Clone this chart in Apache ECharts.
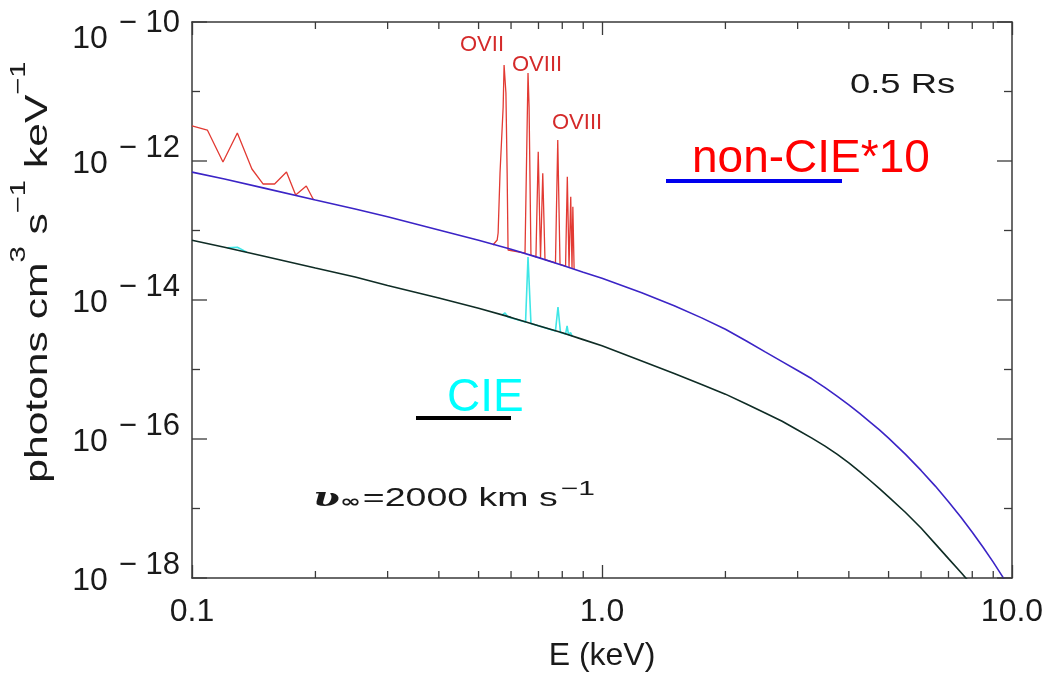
<!DOCTYPE html>
<html>
<head>
<meta charset="utf-8">
<script src="https://cdn.jsdelivr.net/npm/echarts@6/dist/echarts.min.js"></script>
<style>
  html, body { margin: 0; padding: 0; background: #fff; }
  #chart { width: 1053px; height: 675px; }
</style>
</head>
<body>
<div id="chart"></div>
<script>
// Photon energies (keV) sampled along the two continua
const energyKeV = [0.1, 0.12, 0.15, 0.2, 0.25, 0.3, 0.4, 0.5, 0.6, 0.7, 0.8, 0.9, 1.0,
  1.25, 1.5, 1.75, 2.0, 2.25, 2.5, 2.75, 3.0, 3.25, 3.5, 3.75, 4.0, 4.25, 4.5, 4.75, 5.0,
  5.5, 6.0, 6.5, 7.0, 7.5, 8.0, 8.5, 9.0, 9.5, 10.0];

// non-CIE continuum, scaled by 10 (photons cm^3 s^-1 keV^-1)
const nonCieContinuum = [6.92e-13, 5.50e-13, 4.07e-13, 2.75e-13, 2.04e-13, 1.58e-13, 1.02e-13, 7.24e-14,
  5.37e-14, 4.07e-14, 3.16e-14, 2.51e-14, 2.05e-14,
  1.27e-14, 8.26e-15, 5.53e-15, 3.79e-15, 2.57e-15, 1.79e-15, 1.30e-15, 9.68e-16, 7.35e-16, 5.47e-16,
  4.10e-16, 3.10e-16, 2.34e-16, 1.77e-16, 1.35e-16, 1.03e-16,
  6.00e-17, 3.53e-17, 2.10e-17, 1.25e-17, 7.52e-18, 4.56e-18, 2.77e-18, 1.69e-18, 1.03e-18, 6.37e-19];

// CIE continuum
const cieContinuum = [7.24e-14, 5.75e-14, 4.27e-14, 2.88e-14, 2.14e-14, 1.62e-14, 1.07e-14, 7.59e-15,
  5.62e-15, 4.27e-15, 3.39e-15, 2.69e-15, 2.19e-15,
  1.33e-15, 8.75e-16, 6.10e-16, 4.42e-16, 3.19e-16, 2.37e-16, 1.80e-16, 1.35e-16, 1.03e-16, 7.91e-17,
  6.00e-17, 4.52e-17, 3.39e-17, 2.55e-17, 1.93e-17, 1.47e-17,
  8.75e-18, 5.24e-18, 3.10e-18, 1.90e-18, 1.21e-18, 7.83e-19, 5.08e-19, 3.33e-19, 2.20e-19, 1.46e-19];

// non-CIE emission below 0.2 keV
const nonCieSoftE = [0.100, 0.109, 0.119, 0.129, 0.140, 0.149, 0.159, 0.170, 0.179, 0.190, 0.198];
const nonCieSoftF = [3.19e-12, 2.79e-12, 9.68e-13, 2.53e-12, 7.67e-13, 4.67e-13, 4.67e-13, 6.95e-13,
  3.24e-13, 4.37e-13, 2.75e-13];

// non-CIE oxygen / iron line complex
const nonCieLineE = [0.542, 0.555, 0.558, 0.564, 0.574, 0.577, 0.583, 0.587, 0.590,
  0.649, 0.660, 0.664, 0.671, 0.690, 0.699, 0.708, 0.717, 0.726,
  0.770, 0.780, 0.790, 0.815, 0.823, 0.831, 0.839, 0.845, 0.849, 0.855];
const nonCieLineF = [6.18e-14, 7.29e-14, 9.2e-14, 6.71e-13, 5.98e-12, 2.40e-11, 9.51e-12, 6.71e-13, 5.24e-14,
  4.74e-14, 1.85e-11, 5.98e-12, 4.44e-14, 4.16e-14, 1.36e-12, 3.98e-14, 6.65e-13, 3.80e-14,
  3.41e-14, 2.00e-12, 3.25e-14, 3.06e-14, 5.94e-13, 2.96e-14, 3.06e-13, 2.86e-14, 2.19e-13, 2.80e-14];

// CIE lines (null = gap)
const cieLineE = [0.122, 0.129, 0.136, 0.30, 0.570, 0.580, 0.590, 0.651, 0.660, 0.671,
  0.770, 0.781, 0.792, 0.815, 0.822, 0.829, 0.838, 0.846];
const cieLineF = [5.62e-14, 5.75e-14, 4.88e-14, null, 6.03e-15, 6.50e-15, 5.71e-15, 4.83e-15, 4.16e-14, 4.59e-15,
  3.57e-15, 7.92e-15, 3.40e-15, 3.24e-15, 4.23e-15, 3.13e-15, 3.40e-15, 3.00e-15];

// Axis ticks and labels
const xTickLabels = ['0.1', '1.0', '10.0'];
const xMinorTicks = [0.2, 0.3, 0.4, 0.5, 0.6, 0.7, 0.8, 0.9, 2, 3, 4, 5, 6, 7, 8, 9];
const yMajorTicks = [1e-18, 1e-16, 1e-14, 1e-12, 1e-10];
const yMinorTicks = [1e-17, 1e-15, 1e-13, 1e-11];
const yTickExponents = [18, 16, 14, 12, 10];

const SANS = 'Liberation Sans';
const INK = '#1a1a1a';
const FRAME = '#3a3a3a';

function pairs(xs, ys) {
  return xs.map((x, i) => [x, ys[i] == null ? '-' : ys[i]]);
}

function lineSeries(name, data, color, width) {
  return {
    type: 'line', name, data, symbol: 'none', showSymbol: false,
    lineStyle: { color, width }, connectNulls: false, animation: false, silent: true
  };
}

// Tick marks on both sides of the frame, placed through the axes' own scales
function tickSeries(values, dir, len) {
  return {
    type: 'custom', silent: true, animation: false, z: 6,
    data: values.map(v => dir === 'x' ? [v, 1e-14] : [1, v]),
    renderItem(params, api) {
      const cs = params.coordSys;
      const p = api.coord([api.value(0), api.value(1)]);
      const st = { stroke: FRAME, lineWidth: 1.3 };
      if (dir === 'x') {
        const yb = cs.y + cs.height, yt = cs.y;
        return { type: 'group', children: [
          { type: 'line', shape: { x1: p[0], y1: yb, x2: p[0], y2: yb - len }, style: st },
          { type: 'line', shape: { x1: p[0], y1: yt, x2: p[0], y2: yt + len }, style: st }
        ] };
      }
      const xl = cs.x, xr = cs.x + cs.width;
      return { type: 'group', children: [
        { type: 'line', shape: { x1: xl, y1: p[1], x2: xl + len, y2: p[1] }, style: st },
        { type: 'line', shape: { x1: xr, y1: p[1], x2: xr - len, y2: p[1] }, style: st }
      ] };
    }
  };
}

const frameLine = { show: true, lineStyle: { color: FRAME, width: 1.5 } };

const chart = echarts.init(document.getElementById('chart'), null, { renderer: 'canvas' });

chart.setOption({
  backgroundColor: '#fff',
  animation: false,
  grid: { left: 192, right: 41, top: 22, bottom: 97, containLabel: false, outerBoundsMode: 'none' },
  xAxis: [
    {
      type: 'log', logBase: 10, min: 0.1, max: 10, position: 'bottom',
      axisLine: frameLine,
      axisTick: { show: true, inside: true, length: 13, lineStyle: { color: FRAME, width: 1.3 } },
      splitLine: { show: false }, minorTick: { show: false },
      axisLabel: {
        margin: 18, fontSize: 32, fontFamily: SANS, color: INK,
        formatter: v => xTickLabels[Math.round(Math.log10(v)) + 1]
      },
      name: 'E (keV)', nameLocation: 'middle', nameGap: 62,
      nameTextStyle: { fontSize: 32, fontFamily: SANS, color: INK }
    },
    {
      type: 'log', logBase: 10, min: 0.1, max: 10, position: 'top',
      axisLine: frameLine,
      axisTick: { show: true, inside: true, length: 13, lineStyle: { color: FRAME, width: 1.3 } },
      axisLabel: { show: false }, splitLine: { show: false }
    }
  ],
  yAxis: [
    {
      type: 'log', logBase: 10, min: 1e-18, max: 1e-10, position: 'left',
      axisLine: frameLine, axisTick: { show: false }, splitLine: { show: false },
      axisLabel: {
        margin: 12,
        padding: [0, 0, 9, 0],
        formatter: v => {
          const i = yMajorTicks.findIndex(t => Math.abs(Math.log10(t) - Math.log10(v)) < 0.01);
          if (i < 0) return '';
          // the topmost label sits a little lower so it stays inside the page
          return i === yMajorTicks.length - 1
            ? '{bt|10}{et|− ' + yTickExponents[i] + '}'
            : '{b|10}{e|− ' + yTickExponents[i] + '}';
        },
        rich: {
          b: { fontSize: 32, fontFamily: SANS, color: INK, verticalAlign: 'bottom' },
          e: { fontSize: 31, fontFamily: SANS, color: INK, verticalAlign: 'top', lineHeight: 48, padding: [0, 0, 0, 11] },
          bt: { fontSize: 32, fontFamily: SANS, color: INK, verticalAlign: 'top', lineHeight: 48, padding: [30, 0, 0, 0] },
          et: { fontSize: 31, fontFamily: SANS, color: INK, verticalAlign: 'top', lineHeight: 48, padding: [14, 0, 0, 11] }
        }
      }
    },
    {
      type: 'log', logBase: 10, min: 1e-18, max: 1e-10, position: 'right',
      axisLine: frameLine, axisTick: { show: false }, splitLine: { show: false },
      axisLabel: { show: false }
    }
  ],
  series: [
    lineSeries('non-CIE soft', pairs(nonCieSoftE, nonCieSoftF), '#e23a33', 1.3),
    lineSeries('non-CIE lines', pairs(nonCieLineE, nonCieLineF), '#e23a33', 1.3),
    lineSeries('CIE lines', pairs(cieLineE, cieLineF), '#3fe6e6', 1.6),
    lineSeries('non-CIE*10', pairs(energyKeV, nonCieContinuum), '#3b24c6', 1.6),
    lineSeries('CIE', pairs(energyKeV, cieContinuum), '#0f2c25', 1.6),
    tickSeries(xMinorTicks, 'x', 7),
    tickSeries(yMajorTicks, 'y', 15),
    tickSeries(yMinorTicks, 'y', 8)
  ],
  graphic: [
    {
      type: 'text', x: 31, y: 272, rotation: Math.PI / 2, scaleX: 1.33,
      style: {
        text: '{m|photons cm}{s|3}{m| s}{s|−1}{m| keV}{s|−1}',
        align: 'center', verticalAlign: 'middle',
        rich: {
          m: { fontSize: 32, fontFamily: SANS, fill: INK, color: INK, verticalAlign: 'bottom', lineHeight: 46 },
          s: { fontSize: 22, fontFamily: SANS, fill: INK, color: INK, verticalAlign: 'top', lineHeight: 46 }
        }
      }
    },
    {
      type: 'text', x: 850, y: 85, scaleX: 1.3,
      style: { text: '0.5 Rs', fontSize: 28, fontFamily: SANS, fill: INK, align: 'left', verticalAlign: 'middle' }
    },
    {
      type: 'text', x: 692, y: 159,
      style: { text: 'non-CIE*10', fontSize: 46, fontFamily: SANS, fill: '#ff0000', align: 'left', verticalAlign: 'middle' }
    },
    { type: 'line', shape: { x1: 666, y1: 181, x2: 842, y2: 181 }, style: { stroke: '#0000ee', lineWidth: 4 } },
    {
      type: 'text', x: 447, y: 398,
      style: { text: 'CIE', fontSize: 46, fontFamily: SANS, fill: '#00ffff', align: 'left', verticalAlign: 'middle' }
    },
    { type: 'line', shape: { x1: 416, y1: 418, x2: 511, y2: 418 }, style: { stroke: '#000000', lineWidth: 4 } },
    { type: 'text', x: 460, y: 45, style: { text: 'OVII', fontSize: 22, fontFamily: SANS, fill: '#d42a2a', align: 'left', verticalAlign: 'middle' } },
    { type: 'text', x: 512, y: 65, style: { text: 'OVIII', fontSize: 22, fontFamily: SANS, fill: '#d42a2a', align: 'left', verticalAlign: 'middle' } },
    { type: 'text', x: 552, y: 123, style: { text: 'OVIII', fontSize: 22, fontFamily: SANS, fill: '#d42a2a', align: 'left', verticalAlign: 'middle' } },
    {
      type: 'text', x: 313, y: 499, scaleX: 1.5,
      style: {
        text: '{v|ʋ}{i|∞}{m|=2000 km s}{s|−1}',
        align: 'left', verticalAlign: 'middle',
        rich: {
          v: { fontSize: 26, fontFamily: 'DejaVu Serif', fontStyle: 'italic', fontWeight: 'bold', fill: INK, color: INK },
          i: { fontSize: 17, fontFamily: 'DejaVu Sans', fontWeight: 'bold', fill: INK, color: INK, padding: [8, 1, 0, 0] },
          m: { fontSize: 25, fontFamily: SANS, fill: INK, color: INK },
          s: { fontSize: 20, fontFamily: SANS, fill: INK, color: INK, verticalAlign: 'top', lineHeight: 40, padding: [0, 0, 0, 2] }
        }
      }
    }
  ]
});
</script>
</body>
</html>
